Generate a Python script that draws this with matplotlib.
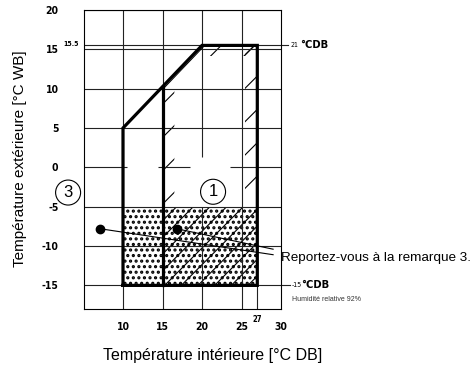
import matplotlib
matplotlib.use("Agg")
import matplotlib.pyplot as plt
from matplotlib import font_manager
from matplotlib.patches import Polygon

plt.rcParams["hatch.linewidth"] = 0.8
plt.rcParams["axes.unicode_minus"] = False
plt.rcParams["font.family"] = ["Liberation Sans", "DejaVu Sans"]

# Operating envelope: indoor dry bulb (x) vs outdoor wet bulb (y)
envelope_db = [10, 10, 20, 27, 27]
envelope_wb = [-15, 5, 15.5, 15.5, -15]
divider_db = [15, 15]
divider_wb = [10.25, -15]
low_zone_db = [10, 27]
low_zone_wb = [-15, -5]
x_ticks = [10, 15, 20, 25, 30]
y_ticks = [20, 15, 10, 5, 0, -5, -10, -15]
note_db = [7.1, 16.8]
note_wb = [-7.8, -7.8]
max_db_label = "21"
min_db_label = "-15"

X0, X1, Y0, Y1 = 5, 30, -18, 20

installed = {f.name for f in font_manager.fontManager.ttflist}
if "Liberation Sans Narrow" in installed:
    NARROW = dict(family="Liberation Sans Narrow")
else:
    NARROW = dict(family="DejaVu Sans", stretch="condensed")

fig = plt.figure(figsize=(4.72, 3.70), dpi=100)
ax = fig.add_axes([83.5 / 472, 61 / 370, 197.5 / 472, 299 / 370])
ax.set_xlim(X0, X1)
ax.set_ylim(Y0, Y1)

# hatched border strip inside the heating area
top_wb = envelope_wb[2]
strips = [
    [(15, -5), (16.5, -5), (16.5, 10.25 + 1.5 * 1.05), (15, 10.25)],
    [(25.5, -5), (27, -5), (27, top_wb), (25.5, top_wb)],
    [(20.6, top_wb - 1.3), (27, top_wb - 1.3), (27, top_wb), (20.6, top_wb)],
]
for s in strips:
    ax.add_patch(Polygon(s, closed=True, fc="none", ec="black", lw=0,
                         hatch="/", zorder=1))

# low-temperature zone: dotted, with extra hatching right of the divider
lx0, lx1 = low_zone_db
ly0, ly1 = low_zone_wb
with plt.rc_context({"hatch.linewidth": 1.5}):
    ax.add_patch(Polygon([(lx0, ly0), (lx1, ly0), (lx1, ly1), (lx0, ly1)],
                         closed=True, fc="none", ec="black", lw=0,
                         hatch="...", zorder=1))
ax.add_patch(Polygon([(divider_db[0], ly0), (lx1, ly0), (lx1, ly1),
                      (divider_db[0], ly1)],
                     closed=True, fc="none", ec="black", lw=0,
                     hatch="//", zorder=1))

# grid
gkw = dict(color="#222222", lw=0.8, zorder=2)
for y in [20, 15, 15.5, 10, 5, -5, -10, -15]:
    ax.hlines(y, X0, X1, **gkw)
for a, b in [(5, 10.5), (14.4, 18.5), (23.5, 30)]:
    ax.hlines(0, a, b, **gkw)
for x in [10, 15, 25, 27]:
    top = top_wb if x == 27 else Y1
    ax.vlines(x, Y0, top, **gkw)
ax.vlines(20, 1.3, Y1, **gkw)
ax.vlines(20, Y0, -5, **gkw)

# leader ticks to the right-hand labels
ax.plot([X1, 30.9], [top_wb, top_wb], color="#222222", lw=0.8, clip_on=False)
ax.plot([X1, 31.1], [-15, -15], color="#222222", lw=0.8, clip_on=False)

# envelope outline
ax.plot(envelope_db + [envelope_db[0]], envelope_wb + [envelope_wb[0]],
        color="black", lw=2.3, solid_joinstyle="miter", zorder=4)
ax.plot(divider_db, divider_wb, color="black", lw=2.3, zorder=4)
ax.plot([15.3, 20.3], [10.2, 15.45], color="black", lw=0.7, zorder=4)

# note markers and leaders
ax.plot([note_db[0], 29.0], [note_wb[0], -11.1], color="black", lw=0.8, zorder=5)
ax.plot([note_db[1], 29.0], [note_wb[1], -10.4], color="black", lw=0.8, zorder=5)
ax.plot(note_db, note_wb, "o", color="black", ms=6, zorder=6)

# circled zone numbers
ckw = dict(ha="center", va="center", fontsize=12, zorder=7, clip_on=False,
           bbox=dict(boxstyle="circle,pad=0.3", fc="white", ec="black", lw=0.8))
ax.text(3.05, -3.2, "3", **ckw)
ax.text(21.4, -3.1, "1", **ckw)

# axes styling
ax.set_xticks(x_ticks)
ax.set_yticks(y_ticks)
ax.tick_params(length=0)
ax.tick_params(axis="y", pad=18)
ax.tick_params(axis="x", pad=9)
for lab in ax.get_xticklabels() + ax.get_yticklabels():
    lab.set(**NARROW)
    lab.set_fontweight("bold")
    lab.set_fontsize(7.5)
for sp in ax.spines.values():
    sp.set_linewidth(0.8)

ax.text(27, -19.3, "27", fontweight="bold", fontsize=5.5,
        ha="center", va="center", clip_on=False, **NARROW)
ax.text(3.4, 15.65, "15.5", fontweight="bold", fontsize=5,
        ha="center", va="center", clip_on=False, **NARROW)

ax.text(31.25, top_wb, max_db_label, fontsize=5,
        ha="left", va="center", clip_on=False, **NARROW)
ax.text(32.4, top_wb + 0.1, "°CDB", fontweight="bold",
        fontsize=8, ha="left", va="center", clip_on=False, **NARROW)
ax.text(31.35, -15, min_db_label, fontsize=5,
        ha="left", va="center", clip_on=False, **NARROW)
ax.text(32.6, -14.9, "°CDB", fontweight="bold",
        fontsize=8, ha="left", va="center", clip_on=False, **NARROW)
ax.text(31.4, -16.8, "Humidité relative 92%", fontsize=5, color="#333333",
        ha="left", va="center", clip_on=False)
ax.text(30.0, -11.5, "Reportez-vous à la remarque 3.", fontsize=9.7,
        ha="left", va="center", clip_on=False)

ax.set_xlabel("Température intérieure [°C DB]", fontsize=11.5, va="center")
ax.xaxis.set_label_coords(0.656, -0.154)
ax.set_ylabel("Température extérieure [°C WB]", fontsize=11, va="center")
ax.yaxis.set_label_coords(-0.32, 0.503)

fig.savefig("out.png", dpi=100)
